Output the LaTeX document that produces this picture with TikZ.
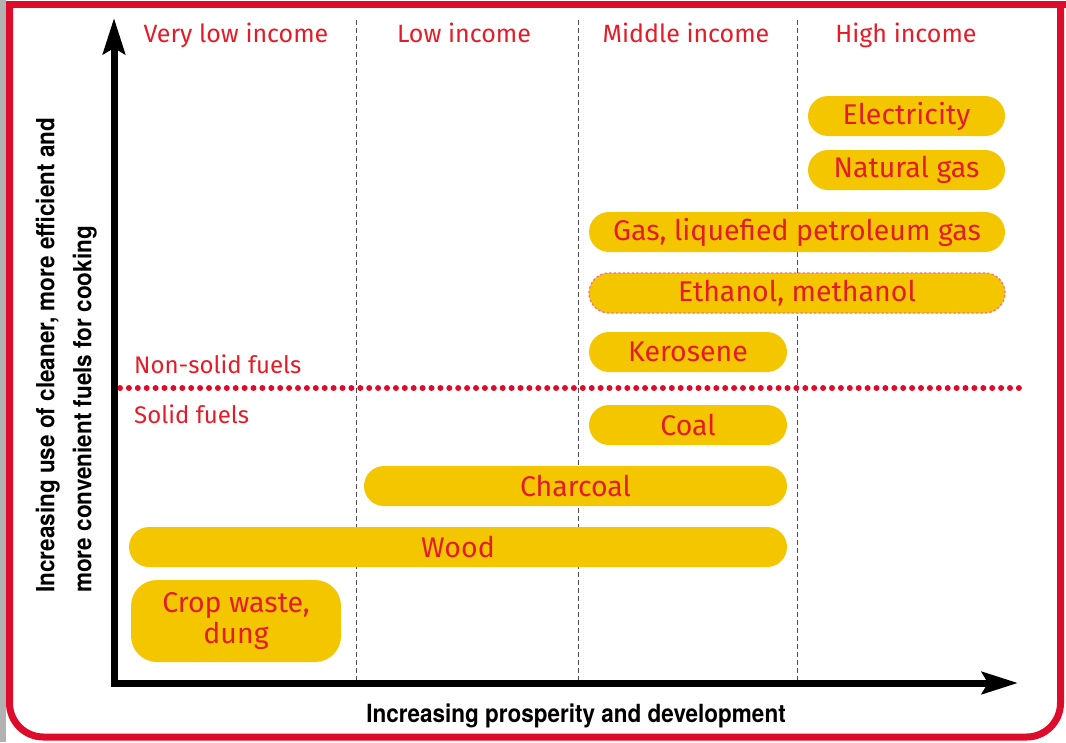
\documentclass[tikz,border=0pt]{standalone}
\usepackage{fontspec}
\setmainfont{Fira Sans}
\newfontfamily\axisfont[FakeStretch=0.9]{TeX Gyre Heros}
\usepackage{xcolor}
\usetikzlibrary{positioning}
\usetikzlibrary{arrows.meta}
\definecolor{framered}{RGB}{222,12,42}
\definecolor{textred}{RGB}{228,28,40}
\definecolor{fuelyellow}{RGB}{244,198,0}
\definecolor{stripgray}{RGB}{178,178,178}

\begin{document}
\begin{tikzpicture}[x=1pt,y=-1pt,
    fuel bar/.style={fill=fuelyellow,text=textred,rounded corners=20pt,minimum height=40pt,inner sep=0pt,font=\fontsize{28.5}{31}\selectfont},
    income label/.style={text=textred,anchor=base,font=\fontsize{25}{28}\selectfont},
    fuel class/.style={text=textred,anchor=base west,inner sep=0pt,font=\fontsize{24}{26}\selectfont},
    divider/.style={dash pattern=on 5pt off 3pt,line width=1pt,black!70},
    axis/.style={line width=7pt,{Stealth[length=36pt,width=22pt,inset=6pt]}-{Stealth[length=36pt,width=22pt,inset=6pt]}},
    axis title/.style={inner sep=0pt,font=\axisfont\bfseries\fontsize{25}{37}\selectfont}]
      \useasboundingbox (0,0) rectangle (1066,742);
      \fill[stripgray] (0,0) rectangle (6,742);
      \draw[framered,line width=7pt] (6,4) -- (1066,4);
      \draw[framered,line width=7pt,rounded corners=34pt] (9.5,4) -- (9.5,737) -- (1060.5,737) -- (1060.5,4);

      \coordinate (origin) at (114,683);
      \coordinate (ytip) at (114,18);
      \coordinate (xtip) at (1018,683);

      \foreach \x in {356,578,797}
        \draw[divider] (\x,20) -- (\x,680);

      \node[income label] (verylow) at (236,42) {Very low income};
      \node[income label] (low) at (464,42) {Low income};
      \node[income label] (middle) at (686,42) {Middle income};
      \node[income label] (high) at (906,42) {High income};

      \coordinate (dotstart) at (120,388);
      \coordinate (dotend) at (1020,388);
      \draw[framered,line width=6pt,line cap=round,dash pattern=on 0pt off 8.9pt] (dotstart) -- (dotend);
      \node[fuel class] (nonsolid) at (134,373) {Non-solid fuels};
      \node[fuel class] (solid) at (134,423) {Solid fuels};

      \node[fuel bar,minimum width=197pt] (electricity) at (906.5,116) {Electricity};
      \node[fuel bar,minimum width=197pt] (natgas) at (906.5,170) {Natural gas};
      \node[fuel bar,minimum width=416pt] (lpg) at (797,232) {Gas, liquefied petroleum gas};
      \node[fuel bar,minimum width=416pt,draw=textred!60,line width=1.3pt,dash pattern=on 2.5pt off 2pt] (ethanol) at (797,293) {Ethanol, methanol};
      \node[fuel bar,minimum width=198pt] (kerosene) at (688,352) {Kerosene};
      \node[fuel bar,minimum width=198pt] (coal) at (688,425) {Coal};
      \node[fuel bar,minimum width=423pt] (charcoal) at (575.5,486) {Charcoal};
      \node[fuel bar,minimum width=658pt] (wood) at (458,547) {Wood};
      \node[fuel bar,minimum width=210pt,minimum height=82pt,rounded corners=26pt,align=center] (crop) at (236,621) {Crop waste,\\dung};

      \draw[axis] (ytip) -- (origin) -- (xtip);

      \node[axis title,anchor=base] (xtitle) at (576,722) {Increasing prosperity and development};
      \node[axis title,rotate=90,anchor=south west,align=left] (ytitle) at (97,593) {Increasing use of cleaner, more efficient and\\more convenient fuels for cooking};
\end{tikzpicture}
\end{document}
